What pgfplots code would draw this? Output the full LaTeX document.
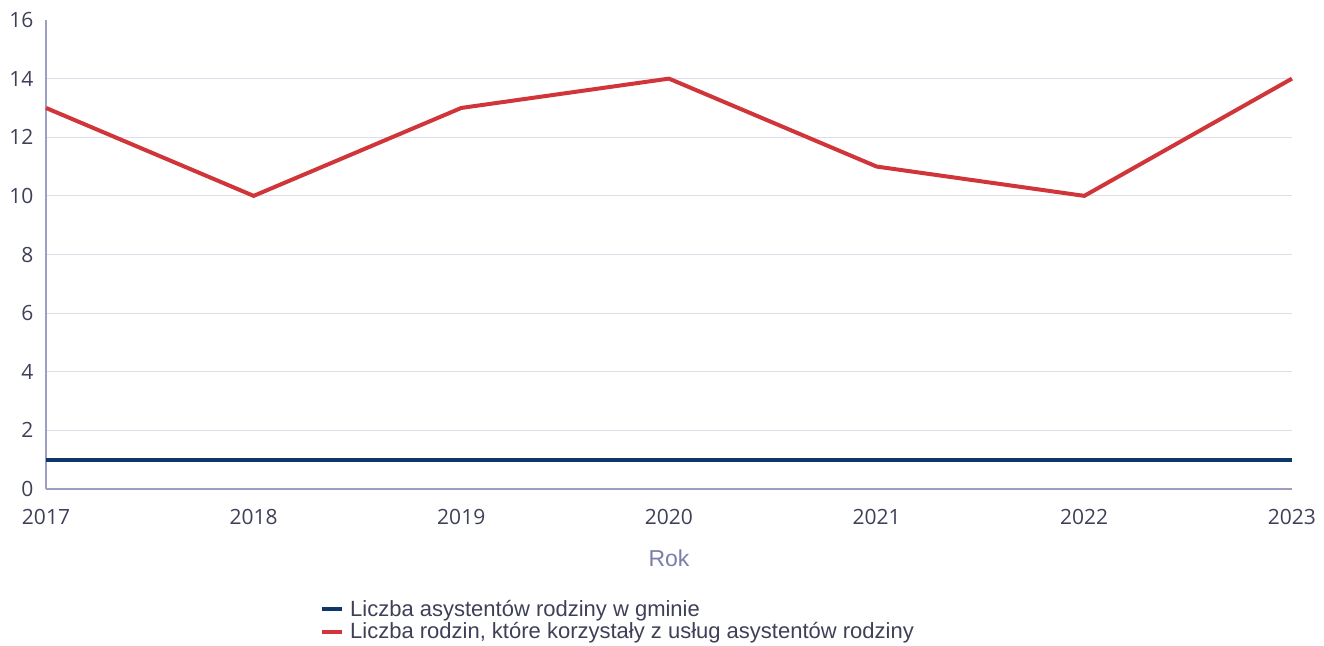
\documentclass[border=0pt]{standalone}
\usepackage{pgfplots}
\pgfplotsset{compat=1.18}
\usepackage{fontspec}
\setmainfont{Open Sans}
\newfontfamily\arial{Liberation Sans}
\definecolor{navy}{HTML}{0D3768}
\definecolor{redl}{HTML}{D0353A}
\definecolor{ticktxt}{HTML}{3E4058}
\definecolor{axline}{HTML}{9C9EC2}
\definecolor{gridc}{HTML}{DEDEEB}
\definecolor{rokc}{HTML}{7B7EA6}
\begin{document}
\begin{tikzpicture}
\begin{axis}[
  scale only axis,
  width=1246pt, height=469pt,
  xmin=2017, xmax=2023,
  ymin=0, ymax=16,
  xtick={2017,...,2023},
  ytick={0,2,...,14},
  extra y ticks={16},
  extra y tick style={grid=none},
  ymajorgrids,
  grid style={gridc, line width=1pt},
  major tick length=0pt,
  axis x line*=bottom,
  axis y line*=left,
  axis line style={axline, line width=1.2pt, -},
  /pgf/number format/1000 sep={},
  /pgf/number format/assume math mode=true,
  tick label style={font=\fontsize{21}{25}\selectfont, text=ticktxt},
  yticklabel style={xshift=-9pt},
  xticklabel style={yshift=-17pt},
  xlabel={Rok},
  xlabel style={font=\arial\fontsize{23}{27}\selectfont, text=rokc, at={(axis description cs:0.5,-0.147)}, anchor=center},
  legend style={draw=none, fill=none, at={(axis description cs:0.2199,-0.232)}, anchor=north west,
    font=\arial\fontsize{22}{25}\selectfont, text=ticktxt, row sep=1pt, inner sep=0pt},
  legend cell align=left,
  legend image code/.code={\draw[#1, line width=4pt] (0pt,0pt) -- (20pt,0pt); \path (24pt,0pt);},
  clip=false,
]
\addplot[navy, line width=4pt] coordinates {
  (2017,1) (2018,1) (2019,1) (2020,1) (2021,1) (2022,1) (2023,1)
};
\addlegendentry{Liczba asystentów rodziny w gminie}
\addplot[redl, line width=4pt] coordinates {
  (2017,13) (2018,10) (2019,13) (2020,14) (2021,11) (2022,10) (2023,14)
};
\addlegendentry{Liczba rodzin, które korzystały z usług asystentów rodziny}
\end{axis}
\pgfresetboundingbox
\path[use as bounding box] (-46pt,-156pt) rectangle (1278pt,489pt);
\end{tikzpicture}
\end{document}
